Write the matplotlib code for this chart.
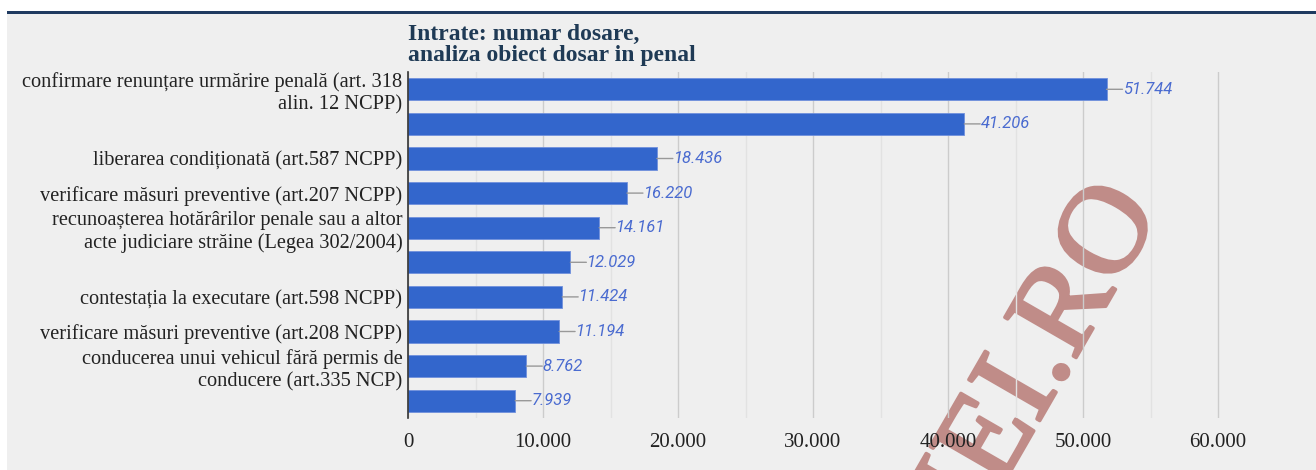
import matplotlib
matplotlib.use("Agg")
import matplotlib.pyplot as plt
import matplotlib.patheffects as pe
from matplotlib.patches import Rectangle
from matplotlib.ticker import MultipleLocator, FuncFormatter

# data
labels = [
    "confirmare renunțare urmărire penală (art. 318\nalin. 12 NCPP)",
    "",
    "liberarea condiționată (art.587 NCPP)",
    "verificare măsuri preventive (art.207 NCPP)",
    "recunoașterea hotărârilor penale sau a altor\nacte judiciare străine (Legea 302/2004)",
    "",
    "contestația la executare (art.598 NCPP)",
    "verificare măsuri preventive (art.208 NCPP)",
    "conducerea unui vehicul fără permis de\nconducere (art.335 NCP)",
    "",
]
values = [51744, 41206, 18436, 16220, 14161, 12029, 11424, 11194, 8762, 7939]
title_lines = ["Intrate: numar dosare,", "analiza obiect dosar in penal"]

W, H = 1316, 470
fig = plt.figure(figsize=(W / 100, H / 100), dpi=100, facecolor="white")

def fx(px): return px / W
def fy(py): return 1 - py / H

# panel background + navy rule on top
fig.patches.append(Rectangle((fx(7), 0), 1 - fx(7), fy(14), transform=fig.transFigure,
                             facecolor="#efefef", edgecolor="none", zorder=-3))
fig.patches.append(Rectangle((fx(7), fy(14)), 1 - fx(7), 3 / H, transform=fig.transFigure,
                             facecolor="#1f3a60", edgecolor="none", zorder=-2))

xmax = 62000
left, right = 408, 408 + 135 * xmax / 10000
top, bottom = 72, 418
ax = fig.add_axes([fx(left), fy(bottom), fx(right) - fx(left), (bottom - top) / H])
ax.set_facecolor("none")

ypos = list(range(len(values)))
ax.barh(ypos, values, height=0.64, color="#3366cc", edgecolor="#7090dc", linewidth=0.6, zorder=3)
ax.set_ylim(len(values) - 0.5, -0.5)
ax.set_xlim(0, xmax)

ax.xaxis.set_major_locator(MultipleLocator(10000))
ax.xaxis.set_minor_locator(MultipleLocator(5000))
ax.xaxis.set_major_formatter(FuncFormatter(lambda v, p: f"{int(v):,}".replace(",", ".")))
ax.grid(axis="x", which="major", color="#cccccc", linewidth=1, zorder=0)
ax.grid(axis="x", which="minor", color="#e2e2e2", linewidth=1, zorder=0)
ax.tick_params(axis="x", which="both", length=0, pad=11, labelsize=15, labelcolor="#222222")
for t in ax.get_xticklabels():
    t.set_fontfamily("Liberation Serif")

ax.set_yticks(ypos)
ax.set_yticklabels(labels, fontfamily="Liberation Serif", fontsize=14.7, color="#222222",
                   linespacing=1.2)
ax.tick_params(axis="y", length=0, pad=4)

for s in ["top", "right", "bottom"]:
    ax.spines[s].set_visible(False)
ax.spines["left"].set_color("#333333")
ax.spines["left"].set_linewidth(1.2)
ax.spines["left"].set_zorder(4)

# value labels with small leader lines
for y, v in zip(ypos, values):
    ax.annotate("", xy=(v, y), xytext=(11.5, 0), textcoords="offset points",
                arrowprops=dict(arrowstyle="-", color="#999999", lw=1, shrinkA=0, shrinkB=0))
    ax.annotate(f"{v:,}".replace(",", "."), xy=(v, y), xytext=(12, 0),
                textcoords="offset points", ha="left", va="center",
                fontsize=12, style="italic", color="#4a6bd0", fontfamily="Roboto")

for line, base in zip(title_lines, [40, 61]):
    fig.text(fx(408), fy(base), line, ha="left", va="baseline", fontsize=17, fontweight="bold",
             fontfamily="Liberation Serif", color="#1f3a55")

# watermark (under the grid and tick labels)
fig.text(0.882, 0.551, "LUMEAJUSTITIEI.RO", rotation=60, rotation_mode="anchor",
         ha="right", va="baseline", fontsize=90, fontfamily="Liberation Serif",
         color="#c08c88", zorder=-1,
         path_effects=[pe.withStroke(linewidth=2.5, foreground="#c08c88")])

fig.savefig("out.png", dpi=100, facecolor=fig.get_facecolor())
